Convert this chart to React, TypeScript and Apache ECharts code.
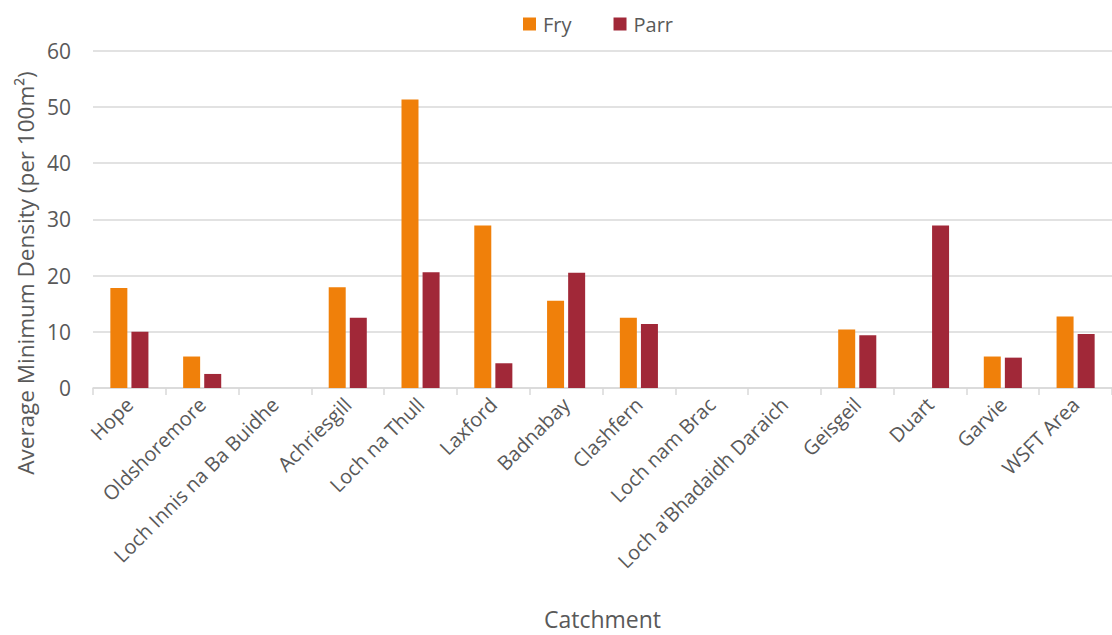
import React, { useEffect, useRef } from "react";
import * as echarts from "echarts";

const categories = [
  "Hope",
  "Oldshoremore",
  "Loch Innis na Ba Buidhe",
  "Achriesgill",
  "Loch na Thull",
  "Laxford",
  "Badnabay",
  "Clashfern",
  "Loch nam Brac",
  "Loch a'Bhadaidh Daraich",
  "Geisgeil",
  "Duart",
  "Garvie",
  "WSFT Area",
];
const fry = [17.8, 5.6, 0, 17.9, 51.3, 28.9, 15.5, 12.5, 0, 0, 10.4, 0, 5.6, 12.7];
const parr = [10.0, 2.5, 0, 12.5, 20.6, 4.4, 20.5, 11.4, 0, 0, 9.4, 28.9, 5.4, 9.6];
const seriesNames = ["Fry", "Parr"];
const colors = ["#F0800A", "#A12838"];
const yAxisTitle = "Average Minimum Density (per 100m²)";
const xAxisTitle = "Catchment";

const FONT = "'Open Sans', 'Noto Sans', sans-serif";
const TXT = "#595959";

export default function App() {
  const ref = useRef<HTMLDivElement>(null);
  useEffect(() => {
    if (!ref.current) return;
    const chart = echarts.init(ref.current, undefined, { renderer: "svg" });
    chart.setOption({
      animation: false,
      backgroundColor: "#ffffff",
      textStyle: { fontFamily: FONT },
      legend: {
        left: 518,
        top: 9,
        itemWidth: 13,
        itemHeight: 13,
        itemGap: 42,
        icon: "rect",
        textStyle: { fontFamily: FONT, fontSize: 20, color: TXT, padding: [0, 0, 0, 2] },
        data: seriesNames,
      },
      graphic: [
        {
          type: "text",
          x: 25,
          y: 273,
          rotation: Math.PI / 2,
          style: {
            text: yAxisTitle,
            fontFamily: FONT,
            fontSize: 22.5,
            fill: TXT,
            textAlign: "center",
            textVerticalAlign: "middle",
          },
        },
      ],
      grid: { left: 93, top: 50.7, width: 1024, bottom: 246, containLabel: false },
      xAxis: {
        type: "category",
        data: categories,
        name: xAxisTitle,
        nameLocation: "middle",
        nameGap: 219,
        nameTextStyle: { fontFamily: FONT, fontSize: 23, color: TXT },
        axisLine: { lineStyle: { color: "#d9d9d9", width: 1.5 } },
        axisTick: { show: true, length: 7, lineStyle: { color: "#d9d9d9", width: 1.5 } },
        axisLabel: {
          interval: 0,
          rotate: 45,
          margin: 13,
          fontFamily: FONT,
          fontSize: 20,
          color: TXT,
        },
      },
      yAxis: {
        type: "value",
        min: 0,
        max: 60,
        interval: 10,
        axisLine: { show: false },
        axisTick: { show: false },
        splitLine: { lineStyle: { color: "#d9d9d9", width: 1.5 } },
        axisLabel: { margin: 22, fontFamily: FONT, fontSize: 21, color: TXT },
      },
      series: [
        {
          name: seriesNames[0],
          type: "bar",
          data: fry,
          barWidth: 17,
          barGap: "24%",
          itemStyle: { color: colors[0] },
        },
        {
          name: seriesNames[1],
          type: "bar",
          data: parr,
          barWidth: 17,
          itemStyle: { color: colors[1] },
        },
      ],
    });
    return () => chart.dispose();
  }, []);
  return <div ref={ref} style={{ width: 1112, height: 635, position: "absolute", left: 0, top: 0 }} />;
}
